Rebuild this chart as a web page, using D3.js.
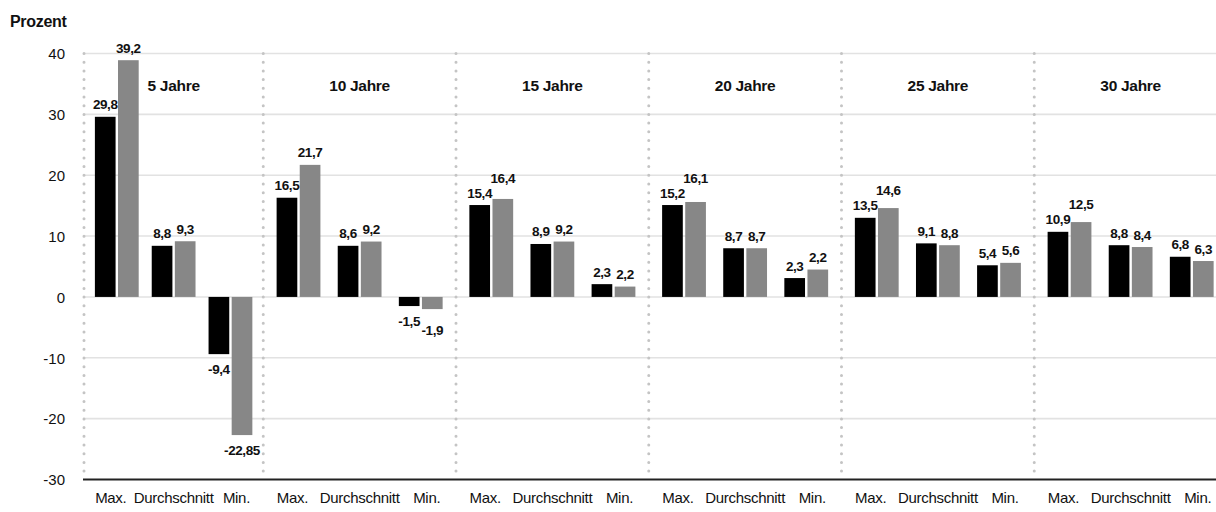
<!DOCTYPE html>
<html><head><meta charset="utf-8">
<script src="https://cdn.jsdelivr.net/npm/d3@7"></script>
<style>
body{margin:0;background:#fff}
svg{display:block}
text{font-family:"Liberation Sans",Arial,sans-serif;fill:#111}
</style>
</head><body><svg id="c" width="1216" height="512"></svg>
<script>
const groups = ["5 Jahre","10 Jahre","15 Jahre","20 Jahre","25 Jahre","30 Jahre"];
const categories = ["Max.","Durchschnitt","Min."];
const series = ["schwarz","grau"];
// bar heights as drawn (per group: Max., Durchschnitt, Min.)
const barsBlack = [29.6, 8.4, -9.4,  16.3, 8.4, -1.5,  15.1, 8.7, 2.1,  15.1, 8.0, 3.1,  13.0, 8.8, 5.2,  10.7, 8.5, 6.6];
const barsGray  = [38.9, 9.15, -22.7, 21.7, 9.1, -2.0,  16.1, 9.1, 1.7,  15.6, 8.0, 4.5,  14.6, 8.5, 5.6,  12.3, 8.2, 5.9];
// printed value labels
const labelsBlack = ["29,8","8,8","-9,4","16,5","8,6","-1,5","15,4","8,9","2,3","15,2","8,7","2,3","13,5","9,1","5,4","10,9","8,8","6,8"];
const labelsGray  = ["39,2","9,3","-22,85","21,7","9,2","-1,9","16,4","9,2","2,2","16,1","8,7","2,2","14,6","8,8","5,6","12,5","8,4","6,3"];
const yTicks = [40,30,20,10,0,-10,-20,-30];
const yTitle = "Prozent";

const svg = d3.select("#c");
const W = 1216, H = 512;
const plotLeft = 84;

const y = d3.scaleLinear().domain([-30, 40]).range([479.5, 53.5]);
const xGroup = d3.scaleBand().domain(groups).range([70.5, 1227]).padding(0);

function groupRange(g){
  const x0 = Math.max(plotLeft, xGroup(g));
  return [x0, xGroup(g) + xGroup.bandwidth()];
}

// gridlines
svg.append("g").selectAll("line").data(yTicks.filter(t => t > -30)).join("line")
  .attr("x1", plotLeft - 1).attr("x2", W)
  .attr("y1", d => y(d)).attr("y2", d => y(d))
  .attr("stroke", "#e2e2e2").attr("stroke-width", 1.6);

// dotted separators
svg.append("g").selectAll("line").data(groups).join("line")
  .attr("x1", g => groupRange(g)[0]).attr("x2", g => groupRange(g)[0])
  .attr("y1", y(40)).attr("y2", y(-30) - 3)
  .attr("stroke", "#c4c4c4").attr("stroke-width", 3)
  .attr("stroke-linecap", "round").attr("stroke-dasharray", "0 8.7");

// y axis labels
const yAxis = d3.axisLeft(y).tickValues(yTicks).tickSize(0).tickPadding(0).tickFormat(d => d);
const ya = svg.append("g").attr("transform", "translate(65,0)").call(yAxis);
ya.select(".domain").remove();
ya.attr("font-family", null).attr("font-size", null);
ya.selectAll("text").style("font-size", "15px").attr("fill", "#111").attr("dy", "0.35em");

// title
svg.append("text").attr("x", 10).attr("y", 27).text(yTitle)
  .style("font-size", "16px").style("font-weight", "bold").style("letter-spacing", "-0.3px");

// build records
const recs = [];
groups.forEach((g, gi) => {
  const [x0, x1] = groupRange(g);
  const xc = d3.scaleBand().domain(categories).range([x0, x1]).paddingOuter(0.077).paddingInner(0);
  categories.forEach((c, ci) => {
    const cx = xc(c) + xc.bandwidth() / 2;
    const xs = d3.scaleBand().domain(series).range([cx - 21.9, cx + 21.9]).paddingInner(0.105).paddingOuter(0);
    const idx = gi * 3 + ci;
    recs.push({g, gi, c, ci, cx, xs, idx,
      vals: [barsBlack[idx], barsGray[idx]],
      labs: [labelsBlack[idx], labelsGray[idx]]});
  });
});

const colors = ["#000000", "#878787"];
const bars = svg.append("g");
recs.forEach(r => {
  series.forEach((s, si) => {
    const v = r.vals[si];
    bars.append("rect")
      .attr("x", r.xs(s)).attr("width", r.xs.bandwidth())
      .attr("y", y(Math.max(0, v))).attr("height", Math.abs(y(v) - y(0)))
      .attr("fill", colors[si]);
  });
});

// axis line at bottom
svg.append("line").attr("x1", plotLeft - 1).attr("x2", W)
  .attr("y1", y(-30)).attr("y2", y(-30)).attr("stroke", "#222").attr("stroke-width", 2);

// value labels with simple collision handling
const lab = svg.append("g");
recs.forEach(r => {
  const t = series.map((s, si) => {
    const v = r.vals[si];
    const xc = r.xs(s) + r.xs.bandwidth() / 2;
    const yy = v >= 0 ? y(v) - 7.5 : y(v) + 19.5;
    return lab.append("text").attr("x", xc).attr("y", yy)
      .attr("text-anchor", "middle").style("font-size", "13.5px").style("font-weight", "bold")
      .style("letter-spacing", "-0.4px")
      .text(r.labs[si]);
  });
  const w0 = t[0].node().getComputedTextLength(), w1 = t[1].node().getComputedTextLength();
  const xb = +t[0].attr("x"), xg = +t[1].attr("x");
  const overlapX = (xb + w0 / 2) > (xg - w1 / 2) - 1.5;
  const yb = +t[0].attr("y"), yg = +t[1].attr("y");
  if (overlapX && Math.abs(yb - yg) < 12) {
    if (r.vals[1] >= 0) t[1].attr("y", Math.min(yg, yb - 15));
    else t[1].attr("y", Math.max(yg, yb + 9));
  }
});

// group titles
svg.append("g").selectAll("text").data(groups).join("text")
  .attr("x", g => { const [a, b] = groupRange(g); return (a + b) / 2; })
  .attr("y", 91).attr("text-anchor", "middle")
  .style("font-size", "15.5px").style("font-weight", "bold").style("letter-spacing", "-0.3px")
  .text(g => g);

// category labels
const xl = svg.append("g");
recs.forEach(r => {
  xl.append("text").attr("x", r.cx + (r.ci - 1) * 6).attr("y", 503)
    .attr("text-anchor", "middle").style("font-size", "15px").style("letter-spacing", "-0.3px")
    .text(r.c);
});
</script>
</body></html>
